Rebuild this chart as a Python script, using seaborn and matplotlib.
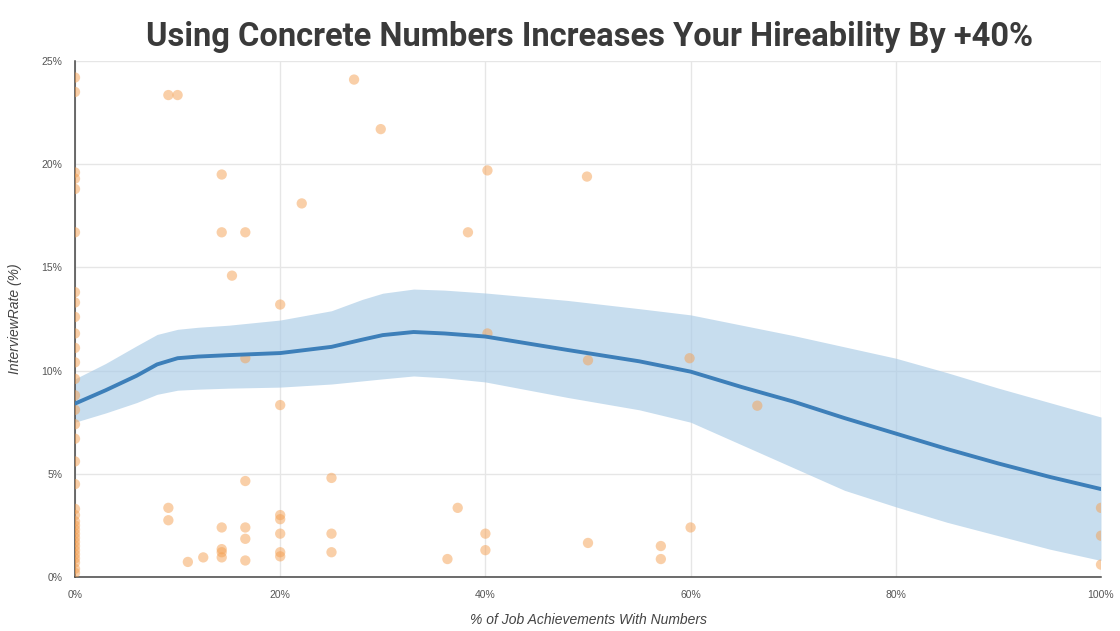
import matplotlib
matplotlib.use("Agg")
import matplotlib.pyplot as plt
from matplotlib.ticker import MultipleLocator, FuncFormatter
import numpy as np
import pandas as pd
import seaborn as sns

# Individual resumes: share of achievements quantified vs. interview rate (both in %)
pts_x = [
    0, 0, 0, 0, 0, 0, 0, 0, 0, 0, 0, 0, 0, 0, 0, 0, 0, 0, 0, 0,
    0, 0, 0, 0, 0, 0, 0, 0, 0, 0, 0, 0, 0, 0,
    9.1, 10.0, 27.2, 29.8, 14.3, 40.2, 49.9, 22.1, 14.3, 16.6,
    38.3, 15.3, 20.0, 16.6, 40.2, 50.0, 59.9, 66.5, 20.0, 16.6,
    25.0, 9.1, 9.1, 14.3, 16.6, 16.6, 20.0, 20.0, 20.0, 20.0,
    20.0, 14.3, 14.3, 14.3, 12.5, 11.0, 16.6, 25.0, 25.0, 37.3,
    36.3, 40.0, 40.0, 50.0, 57.1, 57.1, 60.0, 100, 100, 100,
]
pts_y = [
    24.2, 23.5, 19.6, 19.3, 18.8, 16.7, 13.8, 13.3, 12.6, 11.8,
    11.1, 10.4, 9.6, 8.8, 8.1, 7.4, 6.7, 5.6, 4.5, 3.3,
    3.0, 2.7, 2.5, 2.3, 2.1, 1.9, 1.7, 1.5, 1.3, 1.1,
    0.9, 0.7, 0.4, 0.2,
    23.35, 23.35, 24.1, 21.7, 19.5, 19.7, 19.4, 18.1, 16.7, 16.7,
    16.7, 14.6, 13.2, 10.6, 11.8, 10.5, 10.6, 8.3, 8.33, 4.65,
    4.8, 3.35, 2.75, 2.4, 2.4, 1.85, 3.0, 2.8, 2.1, 1.2,
    1.0, 1.35, 1.2, 0.95, 0.95, 0.73, 0.8, 2.1, 1.2, 3.35,
    0.87, 2.1, 1.3, 1.65, 1.5, 0.87, 2.4, 3.35, 2.0, 0.6,
]

# Smoothed trend with its confidence band
fit_x = [0, 3, 6, 8, 10, 12, 15, 20, 25, 28, 30, 33, 36, 40, 48, 55, 60,
         65, 70, 75, 80, 85, 90, 95, 100]
fit_y = [8.4, 9.05, 9.75, 10.3, 10.6, 10.68, 10.75, 10.85, 11.15, 11.5, 11.72,
         11.87, 11.8, 11.65, 11.0, 10.45, 9.95, 9.2, 8.5, 7.7, 6.95, 6.2,
         5.5, 4.85, 4.26]
fit_lo = [7.5, 7.95, 8.45, 8.85, 9.05, 9.1, 9.15, 9.2, 9.35, 9.5, 9.6,
          9.74, 9.65, 9.45, 8.7, 8.1, 7.5, 6.4, 5.3, 4.2, 3.4, 2.65,
          2.0, 1.35, 0.8]
fit_hi = [9.6, 10.35, 11.2, 11.75, 12.0, 12.1, 12.2, 12.45, 12.9, 13.45, 13.75,
          13.95, 13.9, 13.76, 13.4, 13.0, 12.7, 12.2, 11.7, 11.15, 10.6, 9.9,
          9.15, 8.45, 7.75]

x_ticks = [0, 20, 40, 60, 80, 100]
y_ticks = [0, 5, 10, 15, 20, 25]

sns.set_style("white")
plt.rcParams["font.family"] = ["Liberation Sans", "DejaVu Sans"]

fig = plt.figure(figsize=(11.2, 6.31), dpi=100)
ax = fig.add_axes([75 / 1120, 1 - 577 / 631, 1026 / 1120, 516 / 631])

pts = pd.DataFrame({"x": pts_x, "y": pts_y})
fit = pd.DataFrame({"x": fit_x, "y": fit_y, "lo": fit_lo, "hi": fit_hi})

ax.fill_between(fit["x"], fit["lo"], fit["hi"], color="#a9cbe6", alpha=0.65,
                linewidth=0, zorder=2)
sns.scatterplot(data=pts, x="x", y="y", ax=ax, s=55, color="#f5a052",
                alpha=0.5, edgecolor="none", zorder=3)
sns.lineplot(data=fit, x="x", y="y", ax=ax, color="#3d7fb9", linewidth=2.8,
             zorder=4)

ax.set_xlim(0, 100)
ax.set_ylim(0, 25)
ax.set_xticks(x_ticks)
ax.set_yticks(y_ticks)
ax.xaxis.set_minor_locator(MultipleLocator(4))
ax.yaxis.set_minor_locator(MultipleLocator(1))
pct = FuncFormatter(lambda v, _: f"{v:.0f}%")
ax.xaxis.set_major_formatter(pct)
ax.yaxis.set_major_formatter(pct)

ax.grid(True, which="major", color="#e6e6e6", linewidth=1)
ax.set_axisbelow(True)
for side in ("top", "right"):
    ax.spines[side].set_visible(False)
for side in ("left", "bottom"):
    ax.spines[side].set_color("#444444")
    ax.spines[side].set_linewidth(1.1)

ax.tick_params(axis="both", which="major", direction="out", length=6, width=1,
               color="#444444", labelsize=7.5, labelcolor="#555555", pad=3)
ax.tick_params(axis="both", which="minor", direction="out", length=3.5, width=1,
               color="#444444")

ax.set_xlabel("% of Job Achievements With Numbers", fontsize=10, style="italic",
              color="#444444", labelpad=10)
ax.set_ylabel("InterviewRate (%)", fontsize=10, style="italic",
              color="#444444", labelpad=14)

fig.text(590 / 1120, 1 - 37 / 631, "Using Concrete Numbers Increases Your Hireability By +40%",
         ha="center", va="center", fontsize=23.5, fontweight="bold",
         color="#3a3a3a", family=["Roboto", "DejaVu Sans"])

fig.savefig("out.png", dpi=100)
